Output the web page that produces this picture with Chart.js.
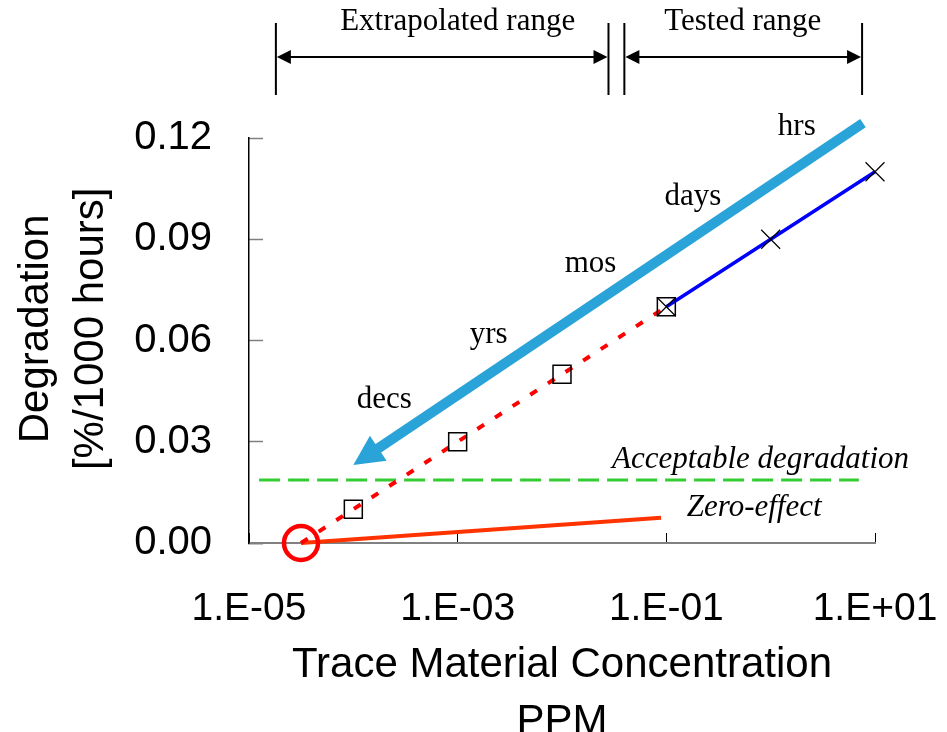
<!DOCTYPE html>
<html>
<head>
<meta charset="utf-8">
<script src="https://cdn.jsdelivr.net/npm/chart.js@4"></script>
<style>
  html, body { margin: 0; padding: 0; background: #fff; }
  canvas { display: block; }
</style>
</head>
<body>
<canvas id="chart" width="947" height="732"></canvas>
<script>
// axis ticks
const xTickValues = [1e-5, 1e-3, 1e-1, 1e1];
const xTickLabels = ['1.E-05', '1.E-03', '1.E-01', '1.E+01'];
const yTickValues = [0, 0.03, 0.06, 0.09, 0.12];
const yTickLabels = ['0.00', '0.03', '0.06', '0.09', '0.12'];

// series
const extrapolatedX = [3.15e-5, 1e-4, 1e-3, 1e-2, 1e-1];
const extrapolatedY = [0, 0.01, 0.03, 0.05, 0.07];
const squareX = [1e-4, 1e-3, 1e-2, 1e-1];
const squareY = [0.01, 0.03, 0.05, 0.07];
const testedX = [0.1, 1, 10];
const testedY = [0.07, 0.09, 0.11];
const acceptableX = [1.25e-5, 7.0];
const acceptableY = [0.0187, 0.0187];
const zeroEffectX = [3.15e-5, 0.089];
const zeroEffectY = [0, 0.0075];
const originX = [3.15e-5];
const originY = [0];

// annotations
const speedArrowX = [7.67, 1.0e-4];
const speedArrowY = [0.1244, 0.0231];
const timeLabels = ['hrs', 'days', 'mos', 'yrs', 'decs'];
const timeLabelX = [1.78, 0.1795, 0.01875, 0.00198, 1.98e-4];
const timeLabelY = [0.1233, 0.1025, 0.0828, 0.0616, 0.0425];
const noteLabels = ['Acceptable degradation', 'Zero-effect'];
const noteX = [0.80, 0.695];
const noteY = [0.0247, 0.0105];
const rangeLabels = ['Extrapolated range', 'Tested range'];
const rangeStart = [1.81e-5, 0.0396];
const rangeEnd = [0.0279, 7.52];
const rangeLabelX = [1e-3, 0.54];

const pts = (xs, ys) => xs.map((v, i) => ({ x: v, y: ys[i] }));

Chart.defaults.font.family = '"Liberation Sans", Arial, sans-serif';
Chart.defaults.color = '#000';

function arrowHead(ctx, tx, ty, ux, uy, len, half) {
    const bx = tx - ux * len, by = ty - uy * len;
    ctx.beginPath();
    ctx.moveTo(tx, ty);
    ctx.lineTo(bx - uy * half, by + ux * half);
    ctx.lineTo(bx + uy * half, by - ux * half);
    ctx.closePath();
    ctx.fill();
}

const overlay = {
    id: 'overlay',
    beforeDatasetsDraw(chart) {
        const { ctx, scales: { x, y } } = chart;
        const x0 = x.getPixelForValue(speedArrowX[0]), y0 = y.getPixelForValue(speedArrowY[0]);
        const x1 = x.getPixelForValue(speedArrowX[1]), y1 = y.getPixelForValue(speedArrowY[1]);
        const len = Math.hypot(x1 - x0, y1 - y0);
        const ux = (x1 - x0) / len, uy = (y1 - y0) / len;
        const head = 30;
        ctx.save();
        ctx.strokeStyle = ctx.fillStyle = '#2aa3d8';
        ctx.lineWidth = 10;
        ctx.beginPath();
        ctx.moveTo(x0, y0);
        ctx.lineTo(x1 - ux * (head - 3), y1 - uy * (head - 3));
        ctx.stroke();
        arrowHead(ctx, x1, y1, ux, uy, head, 15);
        ctx.restore();
    },
    afterDatasetsDraw(chart) {
        const { ctx, chartArea, scales: { x, y } } = chart;
        ctx.save();
        ctx.fillStyle = '#000';
        ctx.textAlign = 'center';
        ctx.textBaseline = 'middle';
        ctx.font = '31px "Liberation Serif", "Times New Roman", serif';
        timeLabels.forEach((t, i) => {
            ctx.fillText(t, x.getPixelForValue(timeLabelX[i]), y.getPixelForValue(timeLabelY[i]));
        });
        ctx.font = 'italic 31px "Liberation Serif", "Times New Roman", serif';
        noteLabels.forEach((t, i) => {
            ctx.fillText(t, x.getPixelForValue(noteX[i]), y.getPixelForValue(noteY[i]));
        });

        // range brackets above the plot
        const top = chartArea.top;
        const lineY = top - 81;
        ctx.font = '31px "Liberation Serif", "Times New Roman", serif';
        ctx.strokeStyle = '#000';
        ctx.lineWidth = 2;
        rangeLabels.forEach((t, i) => {
            const xa = x.getPixelForValue(rangeStart[i]);
            const xb = x.getPixelForValue(rangeEnd[i]);
            ctx.beginPath();
            ctx.moveTo(xa, top - 115); ctx.lineTo(xa, top - 43);
            ctx.moveTo(xb, top - 115); ctx.lineTo(xb, top - 43);
            ctx.moveTo(xa + 10, lineY); ctx.lineTo(xb - 10, lineY);
            ctx.stroke();
            arrowHead(ctx, xa + 1, lineY, -1, 0, 14, 7);
            arrowHead(ctx, xb - 1, lineY, 1, 0, 14, 7);
            ctx.fillText(t, x.getPixelForValue(rangeLabelX[i]), top - 116);
        });
        ctx.restore();
    }
};

new Chart(document.getElementById('chart'), {
    type: 'line',
    data: {
        datasets: [
            {
                label: 'Zero-effect',
                data: pts(zeroEffectX, zeroEffectY),
                borderColor: '#ff3300', borderWidth: 4, pointRadius: 0, order: 5, clip: false
            },
            {
                label: 'Acceptable degradation',
                data: pts(acceptableX, acceptableY),
                borderColor: '#33cc33', borderWidth: 3, borderDash: [21, 8], pointRadius: 0, order: 5, clip: false
            },
            {
                label: 'Extrapolated',
                data: pts(extrapolatedX, extrapolatedY),
                borderColor: '#ff0000', borderWidth: 4, borderDash: [8, 13], pointRadius: 0, order: 4, clip: false
            },
            {
                label: 'Tested',
                data: pts(testedX, testedY),
                borderColor: '#0000ff', borderWidth: 3.5,
                pointStyle: 'crossRot', pointRadius: 13.4, pointBorderColor: '#000', pointBorderWidth: 1.2,
                order: 3, clip: false
            },
            {
                label: 'Extrapolated points',
                data: pts(squareX, squareY),
                showLine: false,
                pointStyle: 'rect', pointRadius: 12.7, pointBorderColor: '#000', pointBorderWidth: 1.5,
                pointBackgroundColor: 'transparent',
                order: 1, clip: false
            },
            {
                label: 'Origin',
                data: pts(originX, originY),
                showLine: false,
                pointStyle: 'circle', pointRadius: 17, pointBorderColor: '#ff0000', pointBorderWidth: 4.5,
                pointBackgroundColor: 'transparent',
                order: 0, clip: false
            }
        ]
    },
    options: {
        responsive: false,
        animation: false,
        events: [],
        layout: { padding: { top: 138, right: 72, left: 0, bottom: 0 } },
        plugins: { legend: { display: false }, tooltip: { enabled: false } },
        scales: {
            x: {
                type: 'logarithmic',
                min: 1e-5, max: 10,
                afterBuildTicks: s => { s.ticks = xTickValues.map(v => ({ value: v })); },
                afterFit: s => { s.height = 189; s.paddingLeft = 0; s.paddingRight = 0; },
                ticks: {
                    autoSkip: false, maxRotation: 0, padding: 53,
                    font: { size: 39 }, color: '#000',
                    callback: (v, i) => xTickLabels[i]
                },
                grid: { drawOnChartArea: false, drawTicks: true, tickLength: -10, tickColor: '#000', tickWidth: 1 },
                border: { display: true, color: '#808080', width: 2 },
                title: {
                    display: true,
                    text: ['Trace Material Concentration', 'PPM'],
                    font: { size: 42, lineHeight: 1.36 }, color: '#000',
                    padding: { top: 0, bottom: -19 }
                }
            },
            y: {
                type: 'linear',
                min: 0, max: 0.12,
                afterBuildTicks: s => { s.ticks = yTickValues.map(v => ({ value: v })); },
                afterFit: s => { s.width = 249; s.paddingTop = 0; s.paddingBottom = 0; },
                ticks: {
                    autoSkip: false, padding: 51,
                    font: { size: 40 }, color: '#000',
                    callback: (v, i) => yTickLabels[i]
                },
                grid: {
                    drawOnChartArea: false, drawTicks: true, tickLength: -14, tickWidth: 1.5,
                    tickColor: c => c.index === 0 ? '#000' : '#808080'
                },
                border: { display: true, color: '#000', width: 1.5 },
                title: {
                    display: true,
                    text: ['  Degradation', '  [%/1000 hours]'],
                    font: { size: 42, lineHeight: 1.33 }, color: '#000',
                    padding: { top: 8, bottom: 0 }
                }
            }
        }
    },
    plugins: [overlay]
});
</script>
</body>
</html>
